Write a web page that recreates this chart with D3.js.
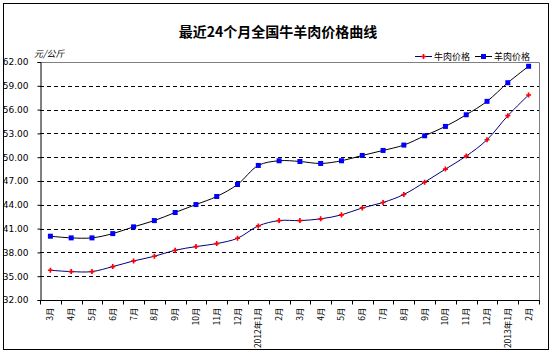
<!DOCTYPE html>
<html>
<head>
<meta charset="utf-8">
<script src="https://d3js.org/d3.v7.min.js"></script>
<style>
    body { margin: 0; background: #fff; }
    text { font-family: "Noto Sans CJK SC", "DejaVu Sans", sans-serif; fill: #000; }
    .grid line { stroke: #000; stroke-dasharray: 4,3; }
    .num { font-family: "DejaVu Sans", sans-serif; font-size: 9px; }
</style>
</head>
<body>
<svg id="chart" width="553" height="354"></svg>
<script>
// data
var months = ["3月", "4月", "5月", "6月", "7月", "8月", "9月", "10月", "11月", "12月",
    "2012年1月", "2月", "3月", "4月", "5月", "6月", "7月", "8月", "9月", "10月", "11月", "12月",
    "2013年1月", "2月"];
var beef = [35.75, 35.58, 35.58, 36.21, 36.92, 37.51, 38.27, 38.73, 39.11, 39.78,
    41.34, 42.01, 42.01, 42.23, 42.73, 43.61, 44.29, 45.30, 46.85, 48.50, 50.14, 52.20,
    55.23, 57.84];
var mutton = [40.04, 39.83, 39.83, 40.37, 41.22, 42.01, 43.03, 44.03, 45.05, 46.56,
    48.96, 49.55, 49.46, 49.21, 49.55, 50.22, 50.85, 51.53, 52.70, 53.88, 55.35, 57.04,
    59.39, 61.46];
var yTicks = [32, 35, 38, 41, 44, 47, 50, 53, 56, 59, 62];
var seriesNames = ["牛肉价格", "羊肉价格"];

var svg = d3.select("#chart");
var pLeft = 40, pRight = 539, pTop = 62, pBottom = 300;

// outer frame
svg.append("rect").attr("x", 3.5).attr("y", 3.5).attr("width", 545).attr("height", 346)
    .attr("fill", "#fff").attr("stroke", "#000").attr("stroke-width", 1);

svg.append("text").attr("x", 278).attr("y", 37).attr("text-anchor", "middle")
    .attr("font-size", "14px").attr("font-weight", "bold")
    .text("最近24个月全国牛羊肉价格曲线");

svg.append("text").attr("x", 34).attr("y", 57).attr("font-size", "9px")
    .attr("font-style", "italic").text("元/公斤");

var x = d3.scaleBand().domain(d3.range(months.length)).range([pLeft, pRight]);
var y = d3.scaleLinear().domain([32, 62]).range([pBottom, pTop]);

// gridlines
svg.append("g").attr("class", "grid")
    .selectAll("line").data(yTicks.filter(function (d) { return d > 32 && d < 62; }))
    .enter().append("line")
    .attr("x1", pLeft).attr("x2", pRight)
    .attr("y1", function (d) { return Math.round(y(d)) + 0.5; })
    .attr("y2", function (d) { return Math.round(y(d)) + 0.5; });

// plot border top/right
svg.append("path")
    .attr("d", "M" + (pLeft + 0.5) + "," + (pTop + 0.5) + "H" + (pRight + 0.5) + "V" + (pBottom + 0.5))
    .attr("fill", "none").attr("stroke", "#808080");

// y axis
var yAxis = svg.append("g").attr("transform", "translate(" + (pLeft + 0.5) + ",0)")
    .call(d3.axisLeft(y).tickValues(yTicks).tickSize(3).tickPadding(9)
        .tickFormat(d3.format(".2f")));
yAxis.select(".domain").attr("stroke", "#000");
yAxis.selectAll("text").attr("class", "num").attr("font-size", null).attr("font-family", null);

// x axis
var xAxis = svg.append("g").attr("transform", "translate(0," + (pBottom + 0.5) + ")");
xAxis.append("line").attr("x1", pLeft).attr("x2", pRight + 1).attr("stroke", "#000");
xAxis.selectAll(".tk").data(d3.range(months.length + 1)).enter().append("line")
    .attr("x1", function (i) { return Math.round(pLeft + i * x.bandwidth()) + 0.5; })
    .attr("x2", function (i) { return Math.round(pLeft + i * x.bandwidth()) + 0.5; })
    .attr("y1", 0).attr("y2", 4).attr("stroke", "#000");
xAxis.selectAll(".lbl").data(months).enter().append("text")
    .attr("transform", function (d, i) {
        return "translate(" + (x(i) + x.bandwidth() / 2 + 3) + ",7) rotate(-90)";
    })
    .attr("text-anchor", "end").attr("font-size", "8.5px")
    .text(function (d) { return d; });

var line = d3.line()
    .x(function (d, i) { return x(i) + x.bandwidth() / 2; })
    .y(function (d) { return y(d); })
    .curve(d3.curveCatmullRom.alpha(0.5));

svg.append("path").datum(beef).attr("d", line).attr("fill", "none")
    .attr("stroke", "#000080").attr("stroke-width", 1);
svg.append("path").datum(mutton).attr("d", line).attr("fill", "none")
    .attr("stroke", "#000").attr("stroke-width", 1);

var cross = d3.symbol().type(d3.symbolCross).size(14);
var square = d3.symbol().type(d3.symbolSquare).size(25);

svg.selectAll(".bm").data(beef).enter().append("path")
    .attr("transform", function (d, i) { return "translate(" + (x(i) + x.bandwidth() / 2) + "," + y(d) + ")"; })
    .attr("d", cross).attr("fill", "#ff0000");
svg.selectAll(".mm").data(mutton).enter().append("path")
    .attr("transform", function (d, i) { return "translate(" + (x(i) + x.bandwidth() / 2) + "," + y(d) + ")"; })
    .attr("d", square).attr("fill", "#0000ff");

// legend
var legend = svg.append("g");
[{ x: 415, c: "#000080", m: cross, f: "#ff0000" }, { x: 475, c: "#000", m: square, f: "#0000ff" }]
    .forEach(function (o, i) {
        legend.append("line").attr("x1", o.x).attr("x2", o.x + 17)
            .attr("y1", 56.5).attr("y2", 56.5).attr("stroke", o.c);
        legend.append("path").attr("transform", "translate(" + (o.x + 8.5) + ",56.5)")
            .attr("d", o.m).attr("fill", o.f);
        legend.append("text").attr("x", o.x + 19).attr("y", 60).attr("font-size", "9px")
            .text(seriesNames[i]);
    });
</script>
</body>
</html>
